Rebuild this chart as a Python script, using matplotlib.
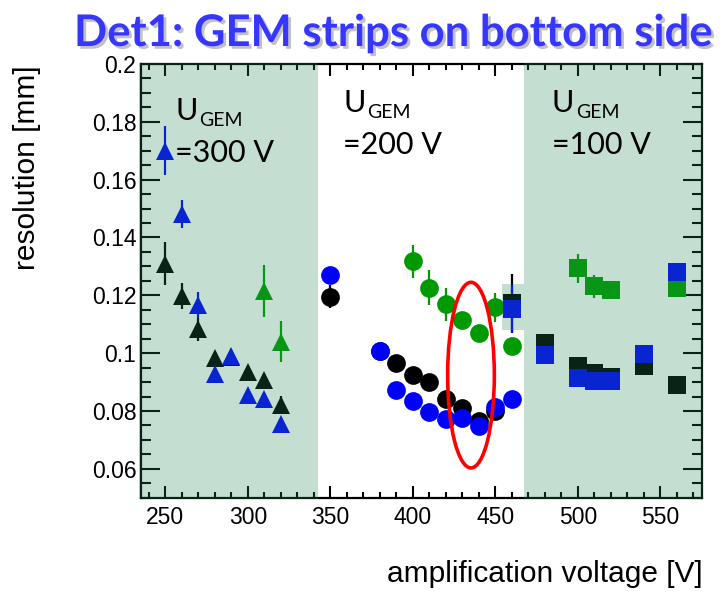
import matplotlib
matplotlib.use('Agg')
import matplotlib.pyplot as plt
import matplotlib.patheffects as pe
from matplotlib.patches import Rectangle, Ellipse
from matplotlib.ticker import MultipleLocator

plt.rcParams['font.family'] = ['Liberation Sans', 'DejaVu Sans']

# U_GEM = 300 V (triangles)
tri_x = [250, 260, 270, 280, 290, 300, 310, 320]
tri_black = [0.131, 0.1198, 0.1083, 0.0984, 0.0985, 0.0934, 0.0908, 0.0822]
tri_black_err = [0.0075, 0.0044, 0.004, 0.002, 0.002, 0.002, 0.002, 0.003]
tri_blue = [0.170, 0.148, 0.1166, 0.0928, 0.0991, 0.0854, 0.0842, 0.0755]
tri_blue_err = [0.0085, 0.0048, 0.0045, 0.002, 0.002, 0.002, 0.002, 0.002]
tri_green_x = [310, 320]
tri_green = [0.1215, 0.104]
tri_green_err = [0.0091, 0.0072]

# U_GEM = 200 V (circles)
circ_black_x = [350, 380, 390, 400, 410, 420, 430, 440, 450]
circ_black = [0.1195, 0.1008, 0.0966, 0.0925, 0.0899, 0.0841, 0.0810, 0.0764, 0.0800]
circ_black_err = [0.004, 0.002, 0.002, 0.002, 0.002, 0.002, 0.002, 0.002, 0.002]
circ_blue_x = [350, 380, 390, 400, 410, 420, 430, 440, 450, 460]
circ_blue = [0.127, 0.1006, 0.0871, 0.0836, 0.0795, 0.0773, 0.0776, 0.0749, 0.0814, 0.0842]
circ_blue_err = [0.002, 0.002, 0.002, 0.002, 0.002, 0.002, 0.002, 0.002, 0.002, 0.002]
circ_green_x = [400, 410, 420, 430, 440, 450, 460]
circ_green = [0.1318, 0.1226, 0.1169, 0.1115, 0.1069, 0.1159, 0.1025]
circ_green_err = [0.0057, 0.006, 0.0057, 0.002, 0.002, 0.005, 0.002]

# U_GEM = 100 V (squares)
sq_x = [460, 480, 500, 510, 520, 540, 560]
sq_black = [0.1172, 0.1034, 0.0957, 0.0931, 0.0917, 0.0956, 0.0889]
sq_black_err = [0.010, 0.002, 0.002, 0.002, 0.002, 0.002, 0.002]
sq_blue = [0.1151, 0.0994, 0.0914, 0.0904, 0.0904, 0.0998, 0.1282]
sq_blue_err = [0.008, 0.002, 0.002, 0.002, 0.002, 0.002, 0.002]
sq_green_x = [500, 510, 520, 560]
sq_green = [0.1293, 0.1231, 0.1218, 0.1224]
sq_green_err = [0.005, 0.0039, 0.002, 0.002]

BLACK = '#000000'
BLUE = '#0000ff'
GREEN = '#009900'
SHADE = (37/255., 138/255., 86/255.)

fig = plt.figure(figsize=(7.24, 5.93), dpi=100)
ax = fig.add_axes([140.5/724, 1 - 497.7/593, 561/724, 433.7/593])


def draw(x, y, err, color, marker, size):
    ax.errorbar(x, y, yerr=err, fmt=marker, color=color, ms=size, mew=0,
                elinewidth=1.6, capsize=0, zorder=3)


draw(tri_x, tri_black, tri_black_err, BLACK, '^', 12.5)
draw(tri_green_x, tri_green, tri_green_err, GREEN, '^', 12.5)
draw(tri_x, tri_blue, tri_blue_err, BLUE, '^', 12.5)

draw(circ_black_x, circ_black, circ_black_err, BLACK, 'o', 13.5)
draw(circ_green_x, circ_green, circ_green_err, GREEN, 'o', 13.5)
draw(circ_blue_x, circ_blue, circ_blue_err, BLUE, 'o', 13.5)

draw(sq_x, sq_black, sq_black_err, BLACK, 's', 13)
draw(sq_green_x, sq_green, sq_green_err, GREEN, 's', 13)
draw(sq_x, sq_blue, sq_blue_err, BLUE, 's', 13)

ax.set_xlim(235, 575)
ax.set_ylim(0.05, 0.2)

# translucent bands over the 300 V and 100 V scans
for x0, x1, y0, y1 in [(234.3, 342.8, 0.0496, 0.2004),
                       (467.7, 575.7, 0.0496, 0.2004),
                       (454.0, 467.7, 0.108, 0.124)]:
    ax.add_patch(Rectangle((x0, y0), x1 - x0, y1 - y0, facecolor=SHADE,
                           edgecolor='none', alpha=0.267, zorder=5, clip_on=False))

ax.add_patch(Ellipse((435.3, 0.0924), 28.3, 0.0642, fill=False,
                     edgecolor='#ff0000', lw=2.6, zorder=4))

ax.xaxis.set_major_locator(MultipleLocator(50))
ax.xaxis.set_minor_locator(MultipleLocator(10))
ax.yaxis.set_major_locator(MultipleLocator(0.02))
ax.yaxis.set_minor_locator(MultipleLocator(0.005))
ax.set_yticks([0.06, 0.08, 0.1, 0.12, 0.14, 0.16, 0.18, 0.2])
ax.set_yticklabels(['0.06', '0.08', '0.1', '0.12', '0.14', '0.16', '0.18', '0.2'])

ax.tick_params(axis='x', which='both', direction='in', top=True, width=1.5,
               color='black', labelsize=16.5, pad=6)
ax.tick_params(axis='x', which='major', length=8.5)
ax.tick_params(axis='x', which='minor', length=4)
ax.tick_params(axis='y', which='both', direction='in', right=True, width=1.5,
               color='black', labelsize=16.5, pad=3)
ax.tick_params(axis='y', which='major', length=13.5)
ax.tick_params(axis='y', which='minor', length=7)
for s in ax.spines.values():
    s.set_linewidth(1.6)

fig.text(703/724, 1 - 582/593, 'amplification voltage [V]', ha='right',
         va='baseline', fontsize=21.5)
fig.text(27/724, 1 - 65/593, 'resolution [mm]', rotation=90, ha='center',
         va='top', fontsize=21.5)

# gate voltage labels
lab = dict(family=['Lato', 'DejaVu Sans'], color='black', va='baseline', zorder=6)
for xu, yu, txt in [(175, 120, '=300 V'), (343, 111.7, '=200 V'), (552, 111.7, '=100 V')]:
    fig.text(xu/724, 1 - yu/593, 'U', fontsize=22, **lab)
    fig.text((xu + 24)/724, 1 - (yu + 6.5)/593, 'GEM', fontsize=14, **lab)
    fig.text(xu/724, 1 - (yu + 42)/593, txt, fontsize=22, **lab)

fig.text(74/724, 1 - 46/593, 'Det1: GEM strips on bottom side',
         family=['Lato', 'DejaVu Sans'], fontweight='bold', fontsize=31.4,
         color='#3636ff', va='baseline', ha='left',
         path_effects=[pe.withSimplePatchShadow(offset=(2, -2), shadow_rgbFace='#999999', alpha=0.6)])

fig.savefig('out.png', dpi=100)
